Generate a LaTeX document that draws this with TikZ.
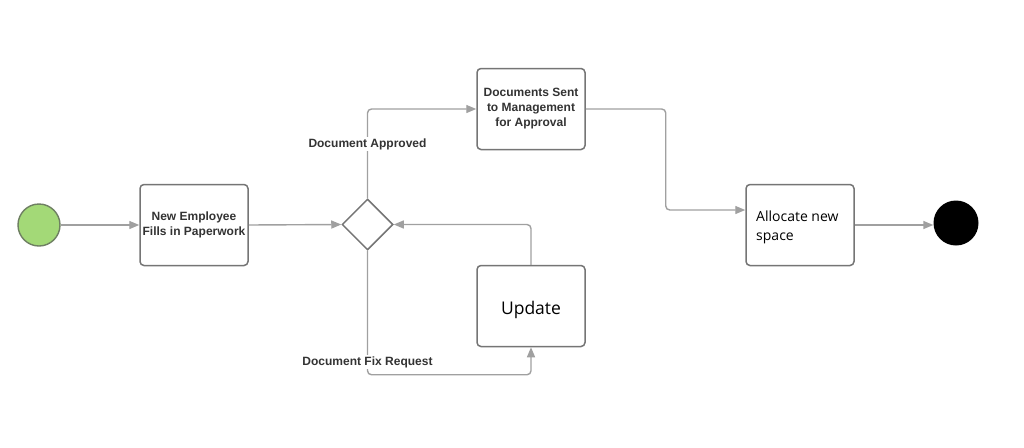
\documentclass[tikz,border=0pt]{standalone}
\usepackage{fontspec}
\setmainfont{Liberation Sans}
\newfontfamily\uifont{Open Sans}
\usetikzlibrary{arrows.meta,shapes.geometric}
\definecolor{linegray}{HTML}{A0A0A0}
\definecolor{boxgray}{HTML}{757575}
\definecolor{txtgray}{HTML}{333333}
\definecolor{startgreen}{HTML}{A3D977}
\definecolor{startborder}{HTML}{6E7F62}
\tikzset{
  stepbox/.style={draw=boxgray, line width=1.5pt, rounded corners=4pt, fill=white,
    minimum width=108pt, minimum height=81pt, inner sep=0pt},
  boldtxt/.style={font=\fontsize{12}{15}\selectfont\bfseries, text=txtgray, align=center},
  conn/.style={draw=linegray, line width=1.4pt, rounded corners=4pt,
    -{Triangle[length=10pt,width=8pt]}},
  lbl/.style={fill=white, inner sep=1pt, font=\fontsize{12}{15}\selectfont\bfseries, text=txtgray}
}
\begin{document}
\begin{tikzpicture}[x=1pt,y=-1pt]
\useasboundingbox (0,0) rectangle (1024,447);
\fill[white] (0,0) rectangle (1024,447);

\node[circle, draw=startborder, line width=1.4pt, fill=startgreen, minimum size=42pt, inner sep=0pt] (start) at (39,225) {};
\node[stepbox, boldtxt] (b1) at (194,225) {New Employee\\Fills in Paperwork};
\node[diamond, draw=boxgray, line width=1.5pt, fill=white, minimum width=51pt, minimum height=51pt, inner sep=0pt, aspect=1] (dia) at (367.5,224.5) {};
\node[stepbox, boldtxt] (b2) at (531,109) {Documents Sent\\to Management\\for Approval};
\node[stepbox, font=\uifont\fontsize{17.5}{21}\selectfont, text=black, text height=16pt, text depth=0pt] (upd) at (531,306) {Update};
\node[stepbox] (b3) at (800,225) {};
\node[anchor=north west, inner sep=0pt, align=left, font=\uifont\fontsize{14}{19}\selectfont, text=black] (b3t) at (756,211) {Allocate new\\space};
\node[circle, fill=black, minimum size=45pt, inner sep=0pt] (end) at (956,223) {};

\draw[conn] (start) -- (b1);
\draw[conn] (b1.east) -- (dia.west);
\draw[conn] (dia.north) |- (b2.west);
\draw[conn] (b2.east) -- ++(80,0) |- ([yshift=15pt]b3.west);
\draw[conn] (b3.east) -- (b3.east -| end.west);
\draw[conn] (upd.north) |- (dia.east);
\draw[conn] (dia.south) -- ++(0,124) -| (upd.south);

\node[lbl] (la) at (367.5,144) {Document Approved};
\node[lbl] (lf) at (367.5,362) {Document Fix Request};
\end{tikzpicture}
\end{document}
